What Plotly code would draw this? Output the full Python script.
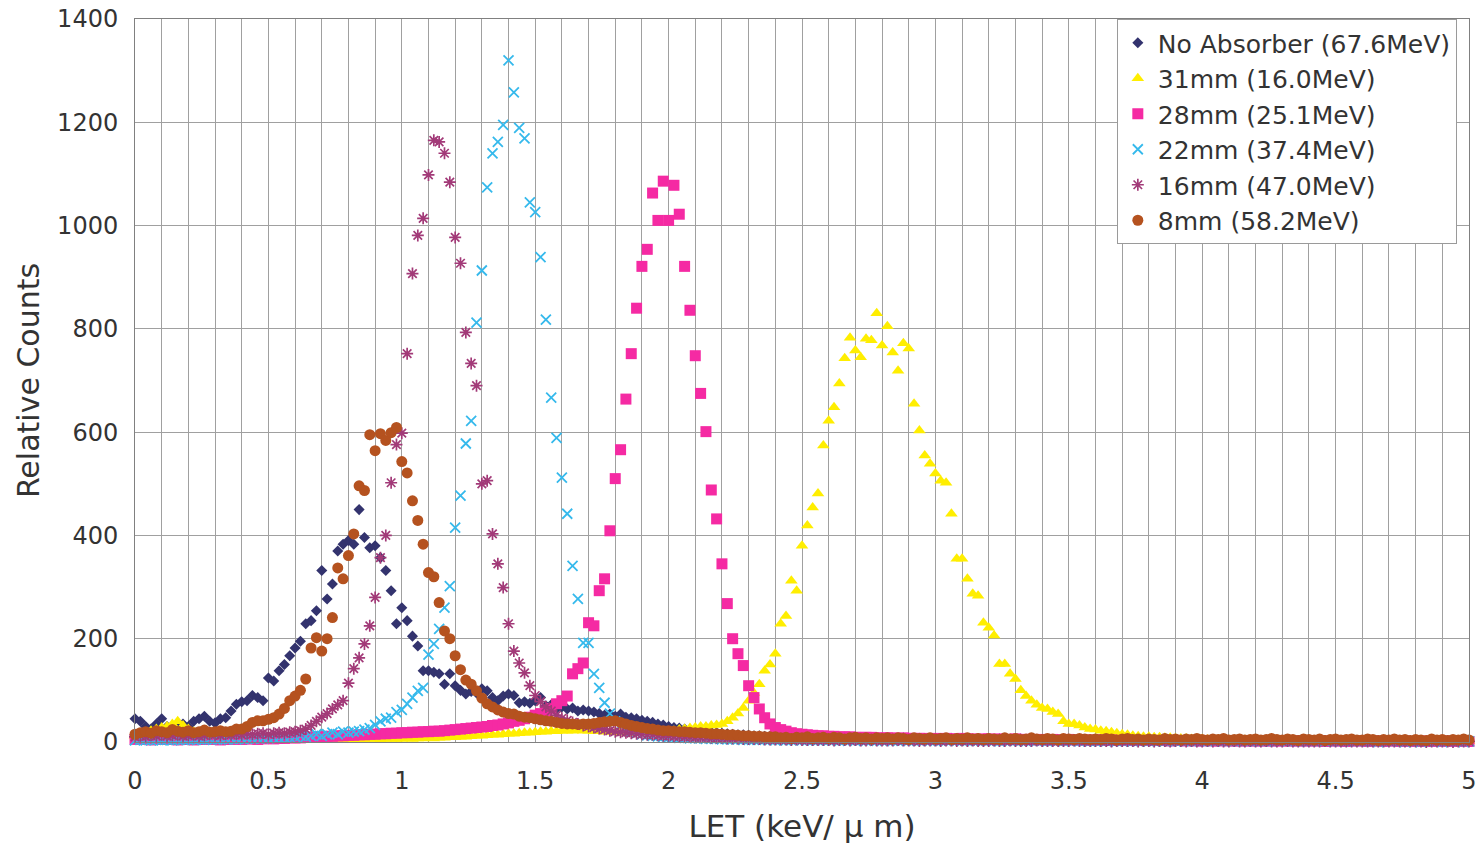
import plotly.graph_objects as go

# LET bin centres (keV/um), 0.02 step from 0 to 5
LET = [round(0.02 * i, 2) for i in range(251)]

no_absorber = [
    45, 40, 30, 25, 35, 45, 30, 25, 30, 35,
    30, 40, 45, 50, 40, 37, 45, 47, 60, 73,
    78, 80, 90, 86, 80, 124, 118, 138, 150, 167,
    182, 195, 229, 235, 254, 332, 277, 306, 370, 383,
    390, 383, 450, 396, 376, 380, 357, 332, 293, 229,
    260, 235, 205, 186, 138, 138, 135, 132, 112, 132,
    109, 100, 93, 98, 95, 103, 99, 86, 80, 89,
    93, 90, 76, 78, 75, 80, 86, 70, 72, 65,
    68, 64, 66, 60, 62, 60, 58, 55, 52, 54,
    50, 54, 48, 47, 45, 42, 40, 38, 35, 33,
    30, 28, 27, 25, 24, 22, 21, 20, 19, 18,
    17, 16, 15, 14, 14, 13, 12, 12, 11, 11,
    10, 10, 9, 9, 8, 8, 8, 7, 7, 7,
    8, 6, 7, 9, 6, 7, 5, 8, 6, 7,
    6, 5, 7, 6, 8, 5, 6, 7, 5, 6,
    5, 6, 4, 7, 5, 6, 5, 4, 6, 5,
    5, 4, 6, 5, 4, 5, 6, 4, 5, 4,
    4, 5, 4, 3, 5, 4, 4, 5, 3, 4,
    4, 3, 5, 4, 3, 4, 4, 3, 5, 3,
    3, 4, 3, 4, 3, 3, 4, 2, 3, 4,
    3, 3, 2, 4, 3, 3, 2, 3, 3, 2,
    3, 2, 3, 3, 2, 3, 2, 2, 3, 2,
    2, 3, 2, 2, 3, 2, 2, 3, 2, 2,
    2, 2, 3, 2, 2, 2, 3, 2, 2, 2,
    2, 3, 2, 2, 2, 2, 3, 2, 2, 2,
    2,
]

mm31 = [
    12, 15, 18, 22, 25, 28, 30, 35, 40, 32,
    25, 20, 15, 12, 10, 9, 8, 8, 7, 7,
    6, 6, 5, 6, 5, 5, 6, 5, 5, 5,
    5, 5, 4, 5, 5, 4, 5, 5, 5, 5,
    5, 5, 6, 5, 6, 6, 5, 6, 6, 6,
    6, 7, 6, 7, 7, 8, 7, 8, 8, 9,
    9, 10, 10, 11, 12, 12, 13, 14, 14, 15,
    16, 16, 17, 18, 18, 19, 20, 20, 21, 21,
    22, 22, 22, 23, 22, 22, 21, 21, 20, 20,
    19, 19, 18, 18, 18, 18, 19, 19, 20, 20,
    20, 22, 24, 25, 27, 28, 30, 30, 32, 33,
    35, 40, 47, 55, 66, 80, 95, 112, 138, 150,
    171, 229, 244, 312, 293, 380, 419, 454, 481, 574,
    622, 648, 694, 743, 783, 758, 745, 781, 778, 830,
    768, 805, 754, 719, 772, 762, 655, 603, 555, 539,
    520, 506, 502, 442, 355, 355, 316, 287, 283, 231,
    221, 206, 151, 151, 132, 122, 100, 89, 80, 72,
    66, 64, 58, 54, 40, 35, 35, 32, 28, 25,
    24, 22, 21, 19, 17, 15, 14, 12, 11, 10,
    10, 9, 9, 8, 8, 7, 7, 7, 6, 6,
    6, 5, 5, 5, 5, 4, 4, 4, 4, 4,
    4, 3, 3, 3, 3, 3, 3, 3, 3, 3,
    3, 3, 2, 3, 2, 2, 3, 2, 2, 2,
    2, 2, 2, 2, 2, 2, 2, 2, 2, 2,
    2, 2, 2, 2, 2, 1, 2, 2, 2, 2,
    2,
]

mm28 = [
    5, 6, 5, 4, 5, 6, 5, 5, 4, 5,
    5, 4, 5, 5, 6, 5, 4, 5, 5, 6,
    5, 6, 6, 5, 6, 7, 6, 7, 7, 8,
    8, 8, 9, 9, 10, 10, 11, 11, 12, 12,
    13, 13, 14, 14, 15, 15, 16, 16, 17, 17,
    18, 18, 19, 19, 20, 20, 21, 21, 22, 23,
    24, 25, 26, 27, 28, 29, 30, 32, 33, 35,
    37, 40, 42, 45, 48, 52, 55, 60, 65, 74,
    80, 89, 132, 142, 153, 231, 225, 293, 316, 409,
    510, 566, 664, 752, 840, 921, 954, 1063, 1010, 1086,
    1010, 1078, 1022, 921, 836, 748, 675, 601, 488, 432,
    345, 268, 200, 171, 148, 109, 86, 64, 47, 35,
    28, 24, 21, 18, 16, 15, 14, 13, 12, 12,
    11, 11, 10, 10, 10, 9, 9, 9, 9, 8,
    8, 8, 8, 7, 8, 7, 7, 7, 7, 6,
    7, 6, 7, 6, 6, 7, 6, 6, 5, 6,
    6, 5, 6, 5, 5, 6, 5, 5, 5, 4,
    5, 4, 5, 4, 4, 5, 4, 4, 4, 3,
    4, 4, 3, 4, 3, 3, 4, 3, 3, 3,
    3, 3, 3, 3, 2, 3, 3, 2, 3, 2,
    2, 3, 2, 2, 3, 2, 2, 2, 2, 2,
    2, 2, 2, 2, 2, 2, 2, 2, 2, 2,
    2, 2, 2, 1, 2, 2, 2, 1, 2, 2,
    2, 1, 2, 2, 1, 2, 2, 1, 2, 1,
    1, 2, 1, 2, 1, 1, 2, 1, 1, 2,
    1,
]

mm22 = [
    3, 4, 3, 3, 4, 3, 4, 3, 4, 4,
    4, 4, 5, 4, 5, 5, 5, 5, 6, 5,
    6, 6, 6, 7, 7, 7, 8, 8, 9, 9,
    10, 12, 10, 12, 15, 12, 15, 18, 15, 20,
    18, 20, 21, 24, 27, 33, 40, 45, 47, 58,
    62, 74, 86, 99, 105, 169, 190, 219, 260, 302,
    415, 477, 578, 622, 812, 913, 1074, 1140, 1162, 1195,
    1320, 1258, 1189, 1169, 1045, 1026, 939, 818, 667, 589,
    512, 442, 341, 277, 192, 192, 132, 105, 76, 55,
    40, 32, 25, 20, 17, 15, 13, 12, 11, 10,
    9, 9, 8, 8, 7, 7, 7, 6, 6, 6,
    5, 5, 5, 5, 4, 4, 4, 4, 4, 4,
    3, 4, 3, 3, 4, 3, 3, 3, 3, 3,
    3, 3, 2, 3, 3, 2, 3, 2, 3, 2,
    2, 3, 2, 2, 3, 2, 2, 2, 3, 2,
    2, 2, 2, 3, 2, 2, 2, 2, 2, 2,
    2, 2, 1, 2, 2, 2, 2, 1, 2, 2,
    2, 1, 2, 2, 1, 2, 2, 1, 2, 1,
    1, 2, 1, 2, 1, 1, 2, 1, 1, 2,
    1, 1, 2, 1, 1, 1, 2, 1, 1, 1,
    1, 1, 1, 2, 1, 1, 1, 1, 1, 1,
    1, 1, 1, 1, 1, 2, 1, 1, 1, 1,
    1, 1, 1, 1, 1, 1, 1, 1, 1, 1,
    1, 1, 1, 0, 1, 1, 1, 1, 0, 1,
    1, 0, 1, 1, 1, 0, 1, 1, 1, 0,
    1,
]

mm16 = [
    10, 12, 11, 13, 12, 14, 12, 13, 14, 12,
    13, 14, 12, 13, 15, 14, 13, 15, 14, 15,
    14, 16, 15, 16, 17, 15, 17, 18, 17, 19,
    20, 22, 25, 32, 40, 48, 55, 64, 72, 80,
    114, 142, 163, 190, 225, 280, 357, 400, 502, 576,
    598, 752, 907, 981, 1014, 1098, 1165, 1162, 1140, 1084,
    977, 927, 793, 733, 690, 500, 506, 403, 345, 299,
    229, 176, 153, 134, 109, 90, 78, 68, 60, 52,
    46, 42, 38, 35, 32, 30, 28, 26, 24, 22,
    20, 19, 18, 17, 16, 15, 14, 14, 13, 12,
    12, 11, 11, 10, 10, 9, 9, 9, 8, 8,
    8, 7, 7, 7, 6, 6, 6, 6, 5, 5,
    5, 5, 5, 4, 5, 4, 4, 4, 4, 4,
    4, 3, 4, 4, 3, 4, 3, 3, 4, 3,
    3, 3, 3, 4, 3, 3, 3, 2, 3, 3,
    3, 2, 3, 3, 2, 3, 2, 3, 2, 2,
    2, 3, 2, 2, 3, 2, 2, 2, 2, 3,
    2, 2, 2, 2, 2, 2, 3, 2, 2, 2,
    2, 2, 2, 1, 2, 2, 2, 2, 1, 2,
    2, 1, 2, 2, 1, 2, 2, 1, 2, 1,
    1, 2, 1, 2, 1, 1, 2, 1, 1, 2,
    1, 1, 2, 1, 1, 1, 2, 1, 1, 1,
    1, 1, 1, 2, 1, 1, 1, 1, 1, 1,
    1, 1, 1, 1, 1, 1, 1, 1, 1, 1,
    1, 1, 0, 1, 1, 1, 1, 0, 1, 1,
    1,
]

mm8 = [
    15, 18, 20, 17, 22, 20, 18, 24, 21, 19,
    22, 18, 20, 23, 19, 20, 22, 20, 21, 25,
    25, 30, 38, 41, 41, 44, 47, 54, 65, 80,
    89, 100, 122, 182, 202, 176, 200, 241, 337, 316,
    361, 403, 496, 487, 595, 564, 597, 584, 599, 609,
    543, 521, 467, 429, 383, 328, 320, 270, 215, 200,
    167, 140, 120, 112, 99, 85, 74, 68, 62, 58,
    55, 54, 50, 48, 47, 45, 43, 41, 40, 38,
    36, 35, 35, 34, 35, 35, 36, 38, 39, 40,
    41, 38, 35, 32, 30, 28, 26, 25, 23, 22,
    22, 21, 20, 20, 19, 18, 18, 17, 16, 16,
    15, 14, 14, 13, 12, 12, 11, 11, 10, 10,
    10, 8, 9, 7, 9, 8, 10, 7, 8, 9,
    7, 9, 8, 6, 8, 9, 7, 8, 6, 8,
    7, 8, 6, 8, 7, 5, 8, 7, 6, 8,
    6, 7, 8, 5, 7, 6, 8, 6, 7, 5,
    7, 6, 5, 8, 6, 7, 5, 6, 8, 6,
    5, 7, 6, 4, 7, 6, 5, 7, 6, 5,
    6, 5, 7, 6, 4, 6, 7, 5, 6, 4,
    6, 5, 4, 7, 5, 6, 4, 6, 5, 7,
    5, 4, 6, 5, 7, 4, 5, 6, 4, 5,
    6, 4, 5, 7, 5, 4, 6, 5, 3, 6,
    5, 4, 6, 3, 5, 6, 4, 5, 6, 4,
    4, 6, 5, 3, 5, 4, 6, 4, 5, 3,
    5, 4, 3, 6, 4, 5, 3, 5, 4, 6,
    4,
]

SERIES = [
    ("No Absorber (67.6MeV)", no_absorber, "diamond", 8.5, "#33336e", None),
    ("31mm (16.0MeV)", mm31, "triangle-up", 11, "#ffee00", None),
    ("28mm (25.1MeV)", mm28, "square", 11, "#f52aa3", None),
    ("22mm (37.4MeV)", mm22, "x-thin-open", 10, "#35b9ec", 1.8),
    ("16mm (47.0MeV)", mm16, "asterisk-open", 10, "#a23a78", 1.7),
    ("8mm (58.2MeV)", mm8, "circle", 11, "#b5521f", None),
]

TEXT = "#333333"
GRID = "#a0a0a0"
FONT = "DejaVu Sans"

fig = go.Figure()
for i, (name, vals, sym, size, color, lw) in enumerate(SERIES):
    marker = dict(symbol=sym, size=size, color=color)
    if lw:
        marker["line"] = dict(color=color, width=lw)
    else:
        marker["line"] = dict(width=0)
    fig.add_trace(go.Scatter(
        x=LET[:len(vals)], y=vals, mode="markers", name=name,
        marker=marker, cliponaxis=False, legendgroup=f"g{i}",
    ))

fig.update_layout(
    width=1482, height=848,
    margin=dict(l=135, r=13, t=19, b=106, autoexpand=False),
    paper_bgcolor="white", plot_bgcolor="white",
    font=dict(family=FONT, color=TEXT, size=24),
    showlegend=True,
    legend=dict(
        x=0.736, y=1.0, xanchor="left", yanchor="top",
        bgcolor="white", bordercolor="#9a9a9a", borderwidth=1,
        font=dict(family=FONT, size=25, color=TEXT),
        tracegroupgap=0, itemwidth=30,
    ),
    xaxis=dict(
        range=[0, 5], tick0=0, dtick=0.5, automargin=False,
        showgrid=True, gridcolor=GRID, gridwidth=1,
        minor=dict(dtick=0.1, showgrid=True, gridcolor=GRID, gridwidth=1),
        zeroline=False, showline=True, linecolor="#808080", linewidth=1, mirror=True,
        ticks="", ticklabelstandoff=17,
        tickfont=dict(family=FONT, size=24, color=TEXT),
        title=dict(text="LET (keV/ μ m)", font=dict(family=FONT, size=31, color=TEXT), standoff=21),
    ),
    yaxis=dict(
        range=[0, 1400], tick0=0, dtick=200, automargin=False,
        showgrid=True, gridcolor=GRID, gridwidth=1,
        zeroline=False, showline=True, linecolor="#808080", linewidth=1, mirror=True,
        ticks="", ticklabelstandoff=11,
        tickfont=dict(family=FONT, size=24, color=TEXT),
        title=dict(text="Relative Counts", font=dict(family=FONT, size=30, color=TEXT), standoff=8),
    ),
)

fig.write_html("out.html")
